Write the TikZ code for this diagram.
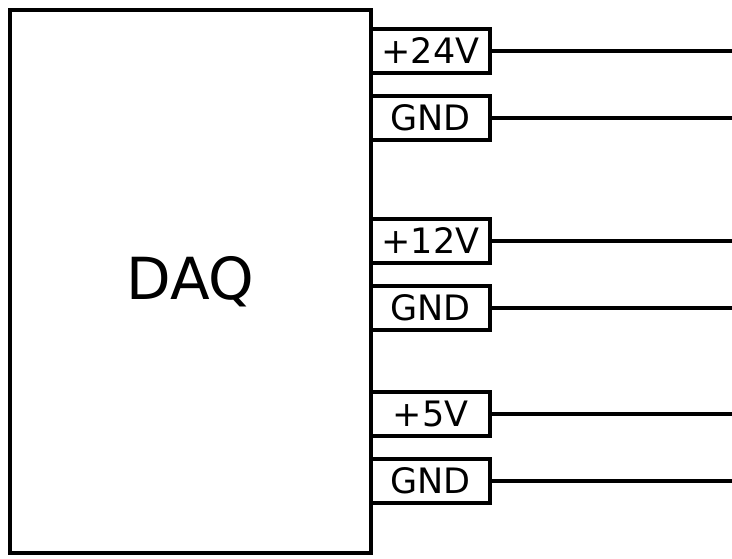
\documentclass[tikz,border=0pt]{standalone}
\usepackage{fontspec}
\setmainfont{DejaVu Sans}
\usetikzlibrary{positioning}

\begin{document}
\begin{tikzpicture}[
  x=1pt, y=-1pt,
  daq/.style={rectangle, draw, line width=4pt, outer sep=0pt,
              minimum width=361pt, minimum height=543pt,
              font=\fontsize{58}{64}\selectfont},
  pin/.style={rectangle, draw, fill=white, line width=4pt, outer sep=0pt,
              minimum width=119pt, minimum height=44pt, inner sep=0pt,
              font=\fontsize{35}{40}\selectfont},
  wire/.style={line width=3.5pt},
  node distance=23pt
]
\useasboundingbox (0,0) rectangle (732,558);

\node[daq] (daq) at (190.5,281.5) {DAQ};
\coordinate (rim) at (732,0);

% supply pins
\node[pin, anchor=north west] (p24) at ([yshift=-19pt]daq.north east) {+24V};
\node[pin, below=of p24] (g24) {GND};
\node[pin, below=79pt of g24] (p12) {+12V};
\node[pin, below=of p12] (g12) {GND};
\node[pin, below=62pt of g12] (p5) {+5V};
\node[pin, below=of p5] (g5) {GND};

\foreach \p in {p24,g24,p12,g12,p5,g5}
  \draw[wire] (\p.east) -- (\p.east -| rim);

\end{tikzpicture}
\end{document}
